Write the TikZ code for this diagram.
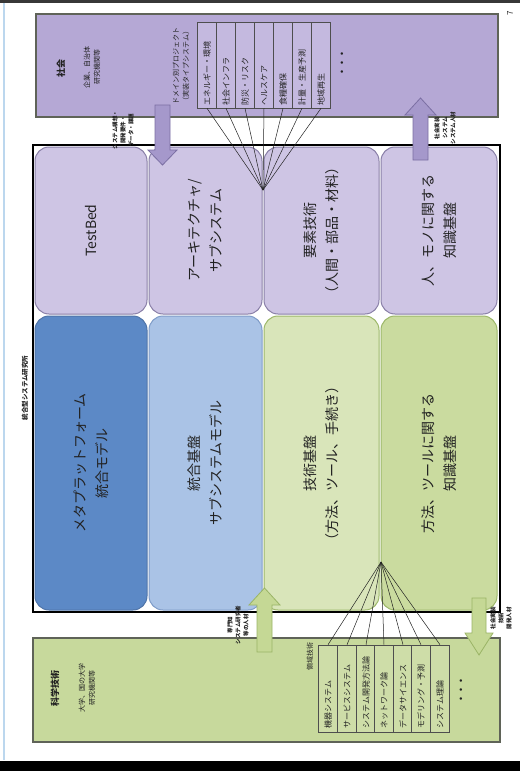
\documentclass[tikz,border=0pt]{standalone}
\usepackage{fontspec}
\setmainfont{Noto Sans CJK JP}
\definecolor{socfill}{HTML}{B5A8D5}
\definecolor{socline}{HTML}{5F6358}
\definecolor{tabfill}{HTML}{C4B9DF}
\definecolor{sciFill}{HTML}{C7D99C}
\definecolor{btabfill}{HTML}{CEDDA8}
\definecolor{topfill}{HTML}{CEC5E4}
\definecolor{topline}{HTML}{8A80A8}
\definecolor{bluedark}{HTML}{5C89C6}
\definecolor{bluedarkline}{HTML}{4F74A8}
\definecolor{bluelight}{HTML}{AAC3E6}
\definecolor{bluelightline}{HTML}{7F9CC8}
\definecolor{greenlight}{HTML}{D9E5BA}
\definecolor{greenmid}{HTML}{CADB9F}
\definecolor{greenline}{HTML}{9DB86A}
\definecolor{lavarrow}{HTML}{A598CB}
\definecolor{lavarrowline}{HTML}{7B6FA3}
\definecolor{grnarrow}{HTML}{C5D895}
\definecolor{grnarrowline}{HTML}{9AB466}
\definecolor{txt}{HTML}{222222}
\definecolor{edgeblue}{HTML}{BCD7EE}
\begin{document}
\begin{tikzpicture}[x=1pt,y=-1pt,
  vt/.style={rotate=90, align=center, text=txt, inner sep=0pt},
  bigbox/.style={rounded corners=14pt, line width=1pt, rotate=90, align=center, inner sep=0pt, text=txt, font=\fontsize{14}{22}\selectfont},
  topbox/.style={bigbox, draw=topline, fill=topfill},
  cell/.style={draw=txt!80, line width=0.6pt, rotate=90, text width=80pt, align=left, inner xsep=3pt, inner ysep=0pt, text=txt, font=\fontsize{8}{9}\selectfont},
  fan/.style={draw=txt, line width=0.5pt},
  lavarr/.style={fill=lavarrow, draw=lavarrowline, line width=0.8pt},
  grnarr/.style={fill=grnarrow, draw=grnarrowline, line width=0.8pt},
  tiny/.style={vt, font=\fontsize{5.5}{8}\selectfont\bfseries},
  small/.style={vt, font=\fontsize{7}{10}\selectfont}
]
\useasboundingbox (0,0) rectangle (520,771);
\fill[white] (0,0) rectangle (520,771);
% page edges
\fill[txt!90] (0,0) rectangle (520,2.5);
\fill[black] (0,761) rectangle (520,771);
\draw[edgeblue, line width=2pt] (3.5,3) -- (3.5,760);
\node[vt, font=\fontsize{8}{8}\selectfont] (pnum) at (510,13) {7};

% society box
\node[draw=socline, fill=socfill, line width=1.5pt, minimum width=462pt, minimum height=103pt, inner sep=0pt] (soc) at (267,65.5) {};
\node[vt, font=\fontsize{9}{10}\selectfont\bfseries] (socl) at (61,68) {社会};
\node[small] (socs) at (92,67) {企業、自治体\\研究機関等};
\node[small] (doml) at (181,66) {ドメイン別プロジェクト\\（実装タイプシステム）};
\foreach \i/\t [count=\k] in {207/エネルギー・環境, 226/社会インフラ, 245/防災・リスク, 264/ヘルスケア, 283/食糧確保, 302/計量・生産予測, 321/地域再生}
  \node[cell, fill=tabfill, minimum width=86pt, minimum height=19pt] (tc\k) at (\i,65) {\t};
\node[vt, font=\fontsize{9}{9}\selectfont\bfseries] (tdots) at (343,63) {・・・};

% science box
\node[draw=socline, fill=sciFill, line width=1.5pt, minimum width=467pt, minimum height=104pt, inner sep=0pt] (sci) at (266.5,690) {};
\node[vt, font=\fontsize{9}{10}\selectfont\bfseries] (scil) at (55,688) {科学技術};
\node[small] (scis) at (87,688) {大学、国の大学\\研究機関等};
\node[small] (rylab) at (310,656) {領域技術};
\foreach \i/\t [count=\k] in {328/機器システム, 347/サービスシステム, 366/システム開発方法論, 384/ネットワーク論, 403/データサイエンス, 421/モデリング・予測, 440/システム理論}
  \node[cell, fill=btabfill, minimum width=87pt, minimum height=19pt] (bc\k) at (\i,688.5) {\t};
\node[vt, font=\fontsize{9}{9}\selectfont\bfseries] (bdots) at (462,690) {・・・};

% main frame
\node[draw=black, line width=2pt, minimum width=467pt, minimum height=467pt, inner sep=0pt] (frame) at (266.5,378.5) {};
\node[vt, font=\fontsize{6.5}{7}\selectfont\bfseries] (title) at (25,388) {統合型システム研究所};

% top row
\node[topbox, minimum width=167pt, minimum height=112pt] (t1) at (91,230.5) {TestBed};
\node[topbox, minimum width=167pt, minimum height=113pt] (t2) at (205.5,230.5) {アーキテクチャ/\\サブシステム};
\node[topbox, minimum width=167pt, minimum height=115pt] (t3) at (321.5,230.5) {要素技術\\（人間・部品・材料）};
\node[topbox, minimum width=167pt, minimum height=116pt] (t4) at (439,230.5) {人、モノに関する\\知識基盤};
% bottom row
\node[bigbox, draw=bluedarkline, fill=bluedark, minimum width=294pt, minimum height=112pt] (b1) at (91,463) {メタプラットフォーム\\統合モデル};
\node[bigbox, draw=bluelightline, fill=bluelight, minimum width=294pt, minimum height=113pt] (b2) at (205.5,463) {統合基盤\\サブシステムモデル};
\node[bigbox, draw=greenline, fill=greenlight, minimum width=294pt, minimum height=115pt] (b3) at (321.5,463) {技術基盤\\（方法、ツール、手続き）};
\node[bigbox, draw=greenline, fill=greenmid, minimum width=294pt, minimum height=116pt] (b4) at (439,463) {方法、ツールに関する\\知識基盤};

% block arrows
\draw[lavarr] (155,105) -- (170,105) -- (170,150) -- (177,150) -- (162.5,165) -- (148,150) -- (155,150) -- cycle;
\draw[lavarr] (413,160) -- (428,160) -- (428,115) -- (436,115) -- (420.5,98) -- (405,115) -- (413,115) -- cycle;
\draw[grnarr] (257,652) -- (272,652) -- (272,605) -- (280,605) -- (264.5,588) -- (249,605) -- (257,605) -- cycle;
\draw[grnarr] (472,598) -- (486,598) -- (486,633) -- (493,633) -- (479,655) -- (465,633) -- (472,633) -- cycle;

% arrow labels
\node[tiny] (la1) at (123,130) {システム構想・\\開発要件・\\データ・課題};
\node[tiny] (la2) at (445,128) {社会実装\\システム\\システム人材};
\node[tiny] (la3) at (238,625) {専門知\\システム研究者\\等の人材};
\node[tiny] (la4) at (501,618) {社会実装\\技術\\開発人材};

% fans
\coordinate (hubT) at (263,190);
\coordinate (hubB) at (381,562);
\foreach \k in {1,...,7} \draw[fan] (tc\k.west) -- (hubT);
\foreach \k in {1,...,7} \draw[fan] (hubB) -- (bc\k.east);
\end{tikzpicture}
\end{document}
